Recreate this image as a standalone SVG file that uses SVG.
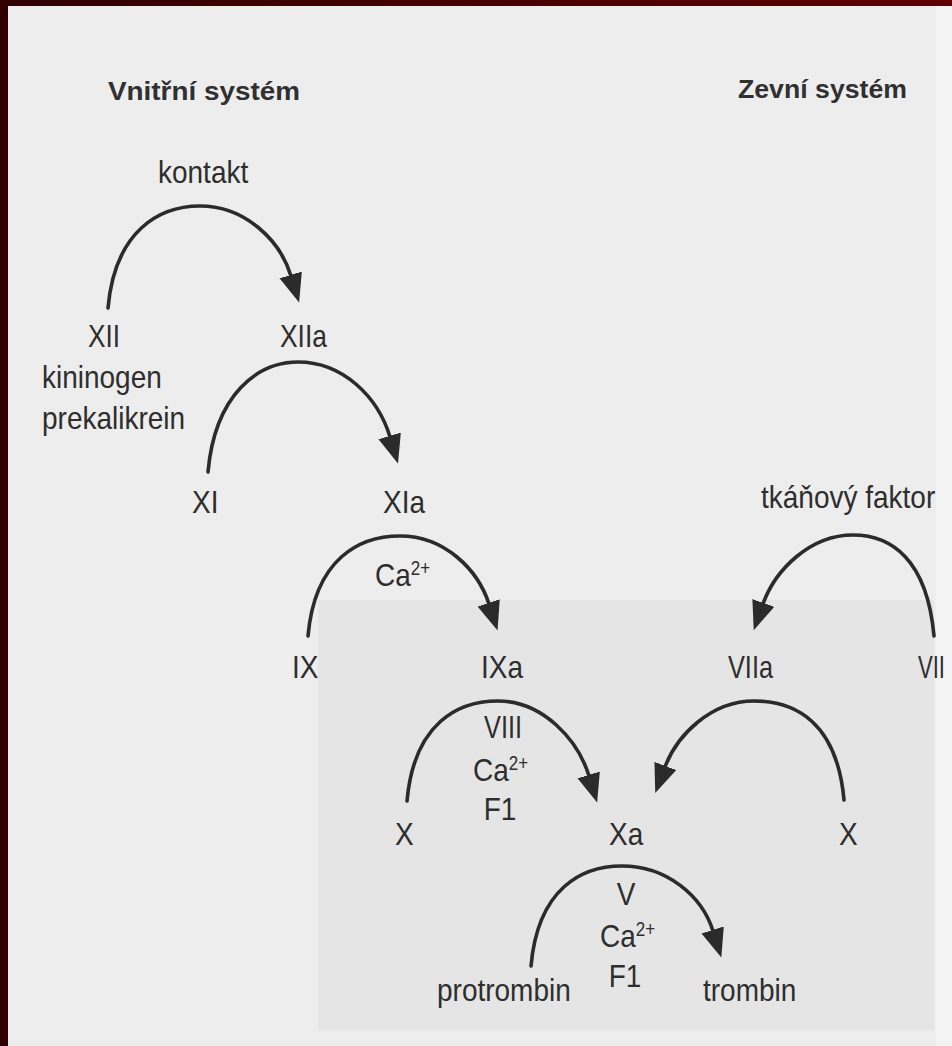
<svg xmlns="http://www.w3.org/2000/svg" width="952" height="1046" viewBox="0 0 952 1046">
<style>
.t{font-family:"Liberation Sans",Arial,sans-serif;font-size:28px;fill:#2e2e2e}
.h{font-family:"Liberation Sans",Arial,sans-serif;font-size:26px;font-weight:bold;fill:#303030}
.sup{font-size:17px}
.c{fill:none;stroke:#2b2b2b;stroke-width:3.6;stroke-linecap:round}
</style>
<defs>
<linearGradient id="top" x1="0" x2="1" y1="0" y2="0">
<stop offset="0" stop-color="#300000"/><stop offset="1" stop-color="#600000"/>
</linearGradient>
<marker id="ah" markerUnits="userSpaceOnUse" markerWidth="30" markerHeight="26" viewBox="0 -11 27 22" refX="1" refY="0" orient="auto">
<path d="M0,-10.5 L26,0 L0,10.5 z" fill="#2b2b2b"/>
</marker>
</defs>
<rect width="952" height="1046" fill="#ededed"/>
<rect x="318" y="600" width="616" height="430" fill="#e5e5e5"/>
<rect x="936" y="6" width="16" height="1040" fill="#f3f3f3"/>
<rect x="0" y="0" width="952" height="6" fill="url(#top)"/>
<rect x="0" y="0" width="8" height="1046" fill="#300000"/>

<g id="titles">
<text class="h" x="108" y="100" textLength="192" lengthAdjust="spacingAndGlyphs">Vnitřní systém</text>
<text class="h" x="738" y="98" textLength="169" lengthAdjust="spacingAndGlyphs">Zevní systém</text>
</g>

<g id="connectors">
<path class="c" marker-end="url(#ah)" d="M108,308 C115,230 160,206 200,206 C245,206 280,240 291,276"/>
<path class="c" marker-end="url(#ah)" d="M208,472 C215,394 258,362 298,362 C343,362 378,397 390,437"/>
<path class="c" marker-end="url(#ah)" d="M308,636 C315,558 360,536 400,536 C445,536 478,570 489,604"/>
<path class="c" marker-end="url(#ah)" d="M407,801 C414,723 458,701 498,701 C543,701 578,740 589,776"/>
<path class="c" marker-end="url(#ah)" d="M531,966 C538,888 582,866 622,866 C667,866 702,896 713,931"/>
<path class="c" marker-end="url(#ah)" d="M934,636 C927,558 890,535 853,535 C810,535 775,570 763,604"/>
<path class="c" marker-end="url(#ah)" d="M844,800 C837,722 795,701 754,701 C711,701 677,735 665,767"/>
</g>

<g id="n-kontakt"><text class="t" transform="translate(158,183) scale(1,1.15)">kontakt</text></g>
<g id="n-XII"><text class="t" transform="translate(88,347) scale(1,1.15)" textLength="32" lengthAdjust="spacingAndGlyphs">XII</text></g>
<g id="n-XIIa"><text class="t" transform="translate(280,347) scale(1,1.15)" textLength="47" lengthAdjust="spacingAndGlyphs">XIIa</text></g>
<g id="n-kininogen"><text class="t" transform="translate(42,388) scale(1,1.15)">kininogen</text><text class="t" transform="translate(42,429) scale(1,1.15)">prekalikrein</text></g>
<g id="n-XI"><text class="t" transform="translate(192,513) scale(1,1.15)">XI</text></g>
<g id="n-XIa"><text class="t" transform="translate(383,513) scale(1,1.15)">XIa</text></g>
<g id="n-tf"><text class="t" transform="translate(761,508) scale(1,1.15)">tkáňový faktor</text></g>
<g id="n-ca1"><text class="t" transform="translate(375,586) scale(1,1.15)">Ca<tspan class="sup" dy="-10">2+</tspan></text></g>
<g id="n-IX"><text class="t" transform="translate(292,678) scale(1,1.15)">IX</text></g>
<g id="n-IXa"><text class="t" transform="translate(481,678) scale(1,1.15)">IXa</text></g>
<g id="n-VIIa"><text class="t" transform="translate(728,678) scale(1,1.15)" textLength="45" lengthAdjust="spacingAndGlyphs">VIIa</text></g>
<g id="n-VII"><text class="t" transform="translate(918,678) scale(1,1.15)" textLength="27" lengthAdjust="spacingAndGlyphs">VII</text></g>
<g id="n-cof1">
<text class="t" transform="translate(503,738) scale(1,1.15)" text-anchor="middle" textLength="38" lengthAdjust="spacingAndGlyphs">VIII</text>
<text class="t" transform="translate(473,781) scale(1,1.15)">Ca<tspan class="sup" dy="-10">2+</tspan></text>
<text class="t" transform="translate(500,820) scale(1,1.15)" text-anchor="middle">F1</text>
</g>
<g id="n-X1"><text class="t" transform="translate(395,845) scale(1,1.15)">X</text></g>
<g id="n-Xa"><text class="t" transform="translate(609,845) scale(1,1.15)">Xa</text></g>
<g id="n-X2"><text class="t" transform="translate(839,845) scale(1,1.15)">X</text></g>
<g id="n-cof2">
<text class="t" transform="translate(626,905) scale(1,1.15)" text-anchor="middle">V</text>
<text class="t" transform="translate(600,947) scale(1,1.15)">Ca<tspan class="sup" dy="-10">2+</tspan></text>
<text class="t" transform="translate(625,987) scale(1,1.15)" text-anchor="middle">F1</text>
</g>
<g id="n-protrombin"><text class="t" transform="translate(437,1001) scale(1,1.15)">protrombin</text></g>
<g id="n-trombin"><text class="t" transform="translate(703,1001) scale(1,1.15)">trombin</text></g>
</svg>
